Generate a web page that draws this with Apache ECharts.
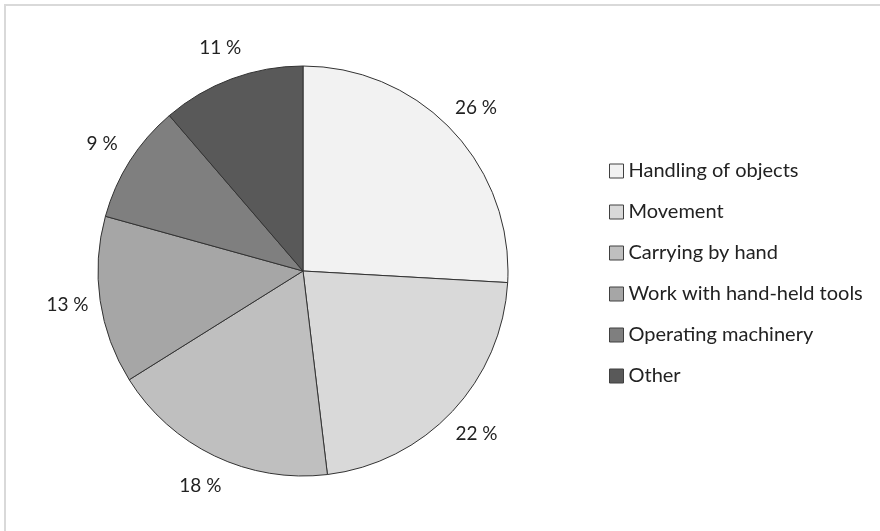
<!DOCTYPE html>
<html>
<head>
<meta charset="utf-8">
<script src="https://cdn.jsdelivr.net/npm/echarts@6/dist/echarts.min.js"></script>
<style>html,body{margin:0;padding:0;background:#fff;}#c{width:880px;height:531px;}</style>
</head>
<body>
<div id="c"></div>
<script>
const categories = ["Handling of objects", "Movement", "Carrying by hand", "Work with hand-held tools", "Operating machinery", "Other"];
// slice shares; labels show rounded percentages
const values = [25.9, 22.2, 18.0, 13.2, 9.4, 11.3];
const colors = ["#f2f2f2", "#d9d9d9", "#bfbfbf", "#a6a6a6", "#7f7f7f", "#595959"];

const chart = echarts.init(document.getElementById('c'), null, {renderer: 'canvas'});
const mainData = categories.map((n, i) => ({name: n, value: values[i], itemStyle: {color: colors[i]}}));
const labelData = categories.map((n, i) => ({name: n, value: values[i]}));
chart.setOption({
  animation: false,
  backgroundColor: '#fff',
  graphic: [{
    type: 'rect', shape: {x: 5, y: 5, width: 900, height: 600},
    style: {fill: 'none', stroke: '#d9d9d9', lineWidth: 2}, silent: true
  }],
  legend: {
    orient: 'vertical', left: 604, top: 156,
    itemWidth: 14, itemHeight: 14, itemGap: 21,
    icon: 'rect',
    itemStyle: {borderColor: '#404040', borderWidth: 1},
    textStyle: {fontFamily: 'Lato', fontSize: 20, color: '#222'},
    data: categories
  },
  series: [{
    type: 'pie',
    center: [303, 271], radius: 205,
    startAngle: 90, clockwise: true,
    avoidLabelOverlap: false,
    itemStyle: {borderColor: '#333', borderWidth: 1},
    label: {show: false},
    labelLine: {show: false},
    emphasis: {disabled: true},
    data: mainData
  }, {
    type: 'pie',
    center: [303, 271], radius: [228, 242],
    startAngle: 90, clockwise: true,
    avoidLabelOverlap: false,
    silent: true,
    itemStyle: {color: 'rgba(0,0,0,0)', borderWidth: 0},
    label: {
      show: true, position: 'inside',
      formatter: p => Math.round(p.value) + ' %',
      fontFamily: 'Lato', fontSize: 19, color: '#222'
    },
    labelLine: {show: false},
    emphasis: {disabled: true},
    data: labelData
  }]
});
</script>
</body>
</html>
